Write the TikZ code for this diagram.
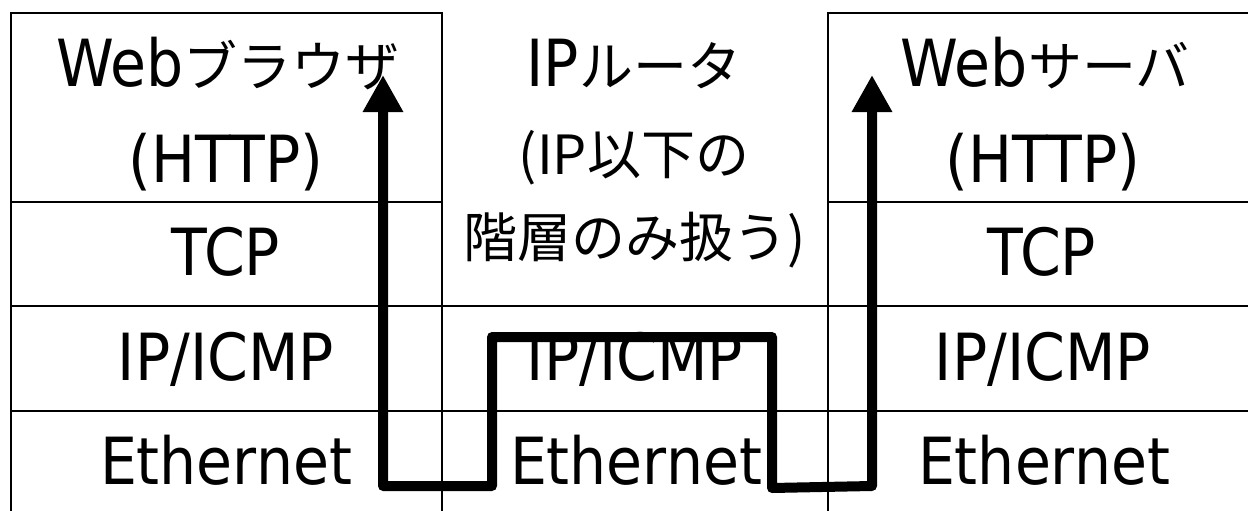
\documentclass[tikz,border=0pt]{standalone}
\usepackage{fontspec}
\setmainfont{DejaVu Sans}[FakeStretch=0.9]
\newfontfamily\jpfont{Noto Sans CJK JP}
\usetikzlibrary{arrows.meta}
\newcommand\jp[1]{{\jpfont\fontsize{54}{54}\selectfont #1}}
\begin{document}
\begin{tikzpicture}[x=1pt,y=-1pt,
  lbl/.style={anchor=base, inner sep=0pt, font=\fontsize{65}{65}\selectfont},
  frame/.style={line width=2.8pt},
  rule/.style={line width=2.2pt},
  flow/.style={line width=10pt, line join=round,
    arrows={Triangle[width=38pt,length=37pt]-Triangle[width=38pt,length=37pt]}}]
\useasboundingbox (0,0) rectangle (1248,511);
\fill[white] (0,0) rectangle (1248,511);
\clip (0,0) rectangle (1248,511);
% frames
\draw[frame] (11,530) -- (11,13) -- (442,13) -- (442,530);
\draw[frame] (828,530) -- (828,13) -- (1270,13) -- (1270,530);
\draw[rule] (11,202) -- (442,202);
\draw[rule] (828,202) -- (1270,202);
\draw[rule] (11,306) -- (1270,306);
\draw[rule] (11,411) -- (1270,411);
% left column
\node[lbl] (b1) at (228,86) {Web\jp{ブラウザ}};
\node[lbl] (b2) at (226,182) {(HTTP)};
\node[lbl] (b3) at (226,275) {TCP};
\node[lbl] (b4) at (226,380) {IP/ICMP};
\node[lbl] (b5) at (226,484) {Ethernet};
% middle column
\node[lbl] (r1) at (634,86) {IP\jp{ルータ}};
\node[lbl] (r2) at (634,174) {\jp{(IP以下の}};
\node[lbl] (r3) at (635,257) {\jp{階層のみ扱う)}};
\node[lbl] (r4) at (635,380) {IP/ICMP};
\node[lbl] (r5) at (636,484) {Ethernet};
% right column
\node[lbl] (s1) at (1045,86) {Web\jp{サーバ}};
\node[lbl] (s2) at (1043,182) {(HTTP)};
\node[lbl] (s3) at (1042,275) {TCP};
\node[lbl] (s4) at (1043,380) {IP/ICMP};
\node[lbl] (s5) at (1044,484) {Ethernet};
% flow path
\coordinate (p0) at (383,75);
\coordinate (p1) at (383,486);
\coordinate (p2) at (492,486);
\coordinate (p3) at (492,337);
\coordinate (p4) at (772,337);
\coordinate (p5) at (772,488);
\coordinate (p6) at (872,486);
\coordinate (p7) at (872,75);
\draw[flow] (p0) -- (p1) -- (p2) -- (p3) -- (p4) -- (p5) -- (p6) -- (p7);
\end{tikzpicture}
\end{document}
